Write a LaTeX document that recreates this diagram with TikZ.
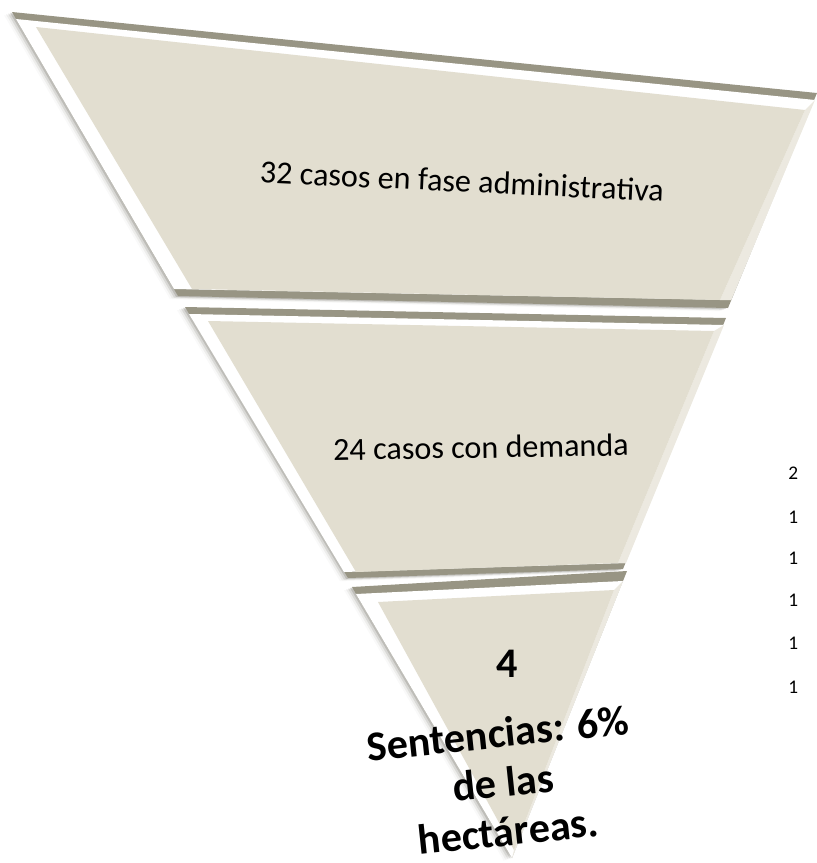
\documentclass[tikz,border=0pt]{standalone}
\usepackage{fontspec}
\setmainfont{Carlito}
\usetikzlibrary{positioning}
\definecolor{facebeige}{RGB}{226,222,208}
\definecolor{rimgrey}{RGB}{152,149,132}
\definecolor{edgecream}{RGB}{236,233,224}
\definecolor{shadowgrey}{RGB}{110,108,98}

\begin{document}
\begin{tikzpicture}[x=0.02cm, y=-0.02cm,
    rim/.style={fill=rimgrey},
    glow/.style={fill=white},
    bevel/.style={fill=edgecream},
    face/.style={fill=facebeige},
    shadowcopy/.style={fill=shadowgrey, opacity=#1},
    casetext/.style={font=\fontsize{18.3}{22}\selectfont},
    resulttext/.style={font=\bfseries\fontsize{24}{28}\selectfont, align=center, inner sep=1pt},
    axistext/.style={font=\fontsize{11}{13}\selectfont, anchor=west, inner sep=0pt}]

  \useasboundingbox (0,0) rectangle (817,863);
  \clip (0,0) rectangle (817,863);

  % soft shadow on the left side
  \foreach \d/\o in {2/0.25, 4/0.16, 6/0.09, 8/0.04} {
    \fill[shadowcopy=\o, shift={(-\d,0.4*\d)}] (12,12) -- (817,93) -- (728,308) -- (178,296) -- cycle;
    \fill[shadowcopy=\o, shift={(-\d,0.4*\d)}] (185,307) -- (726,318) -- (623,569) -- (348,578) -- cycle;
    \fill[shadowcopy=\o, shift={(-\d,0.4*\d)}] (352,587) -- (627,571) -- (512,858) -- cycle;
  }

  % top part
  \fill[rim] (12,12) -- (817,93) -- (728,308) -- (178,296) -- cycle;
  \fill[glow] (16,19) -- (815,100) -- (731,300) -- (174,289) -- cycle;
  \fill[bevel] (805,110) -- (815,100) -- (731,300) -- (720,300) -- cycle;
  \fill[face] (36,27) -- (805,110) -- (720,300) -- (192,289) -- cycle;

  % middle part
  \fill[rim] (185,307) -- (726,318) -- (623,569) -- (348,578) -- cycle;
  \fill[glow] (189,314) -- (724,325) -- (626,563) -- (344,572) -- cycle;
  \fill[bevel] (714,331) -- (724,325) -- (626,563) -- (618,563) -- cycle;
  \fill[face] (208,321) -- (714,331) -- (618,563) -- (356,572) -- cycle;

  % tip
  \fill[rim] (352,587) -- (627,571) -- (512,858) -- cycle;
  \fill[glow] (356,594) -- (623,581) -- (512,858) -- cycle;
  \fill[bevel] (614,590) -- (623,581) -- (512,858) -- (514,850) -- cycle;
  \fill[face] (378,602) -- (614,590) -- (514,850) -- cycle;

  \node[casetext, rotate=-2.7] (adminfase) at (462,181) {32 casos en fase administrativa};
  \node[casetext, rotate=1] (demanda) at (481,447) {24 casos con demanda};
  \node[resulttext] (sentnum) at (507,664) {4};
  \node[resulttext, rotate=6] (sentencias) at (503,782) {Sentencias: 6\%\\de las\\hectáreas.};

  % cut-off axis labels
  \foreach \v/\yy in {2/473, 1/517, 1/558, 1/600, 1/643, 1/687}
    \node[axistext] (tick\yy) at (788,\yy) {\v};
\end{tikzpicture}
\end{document}
